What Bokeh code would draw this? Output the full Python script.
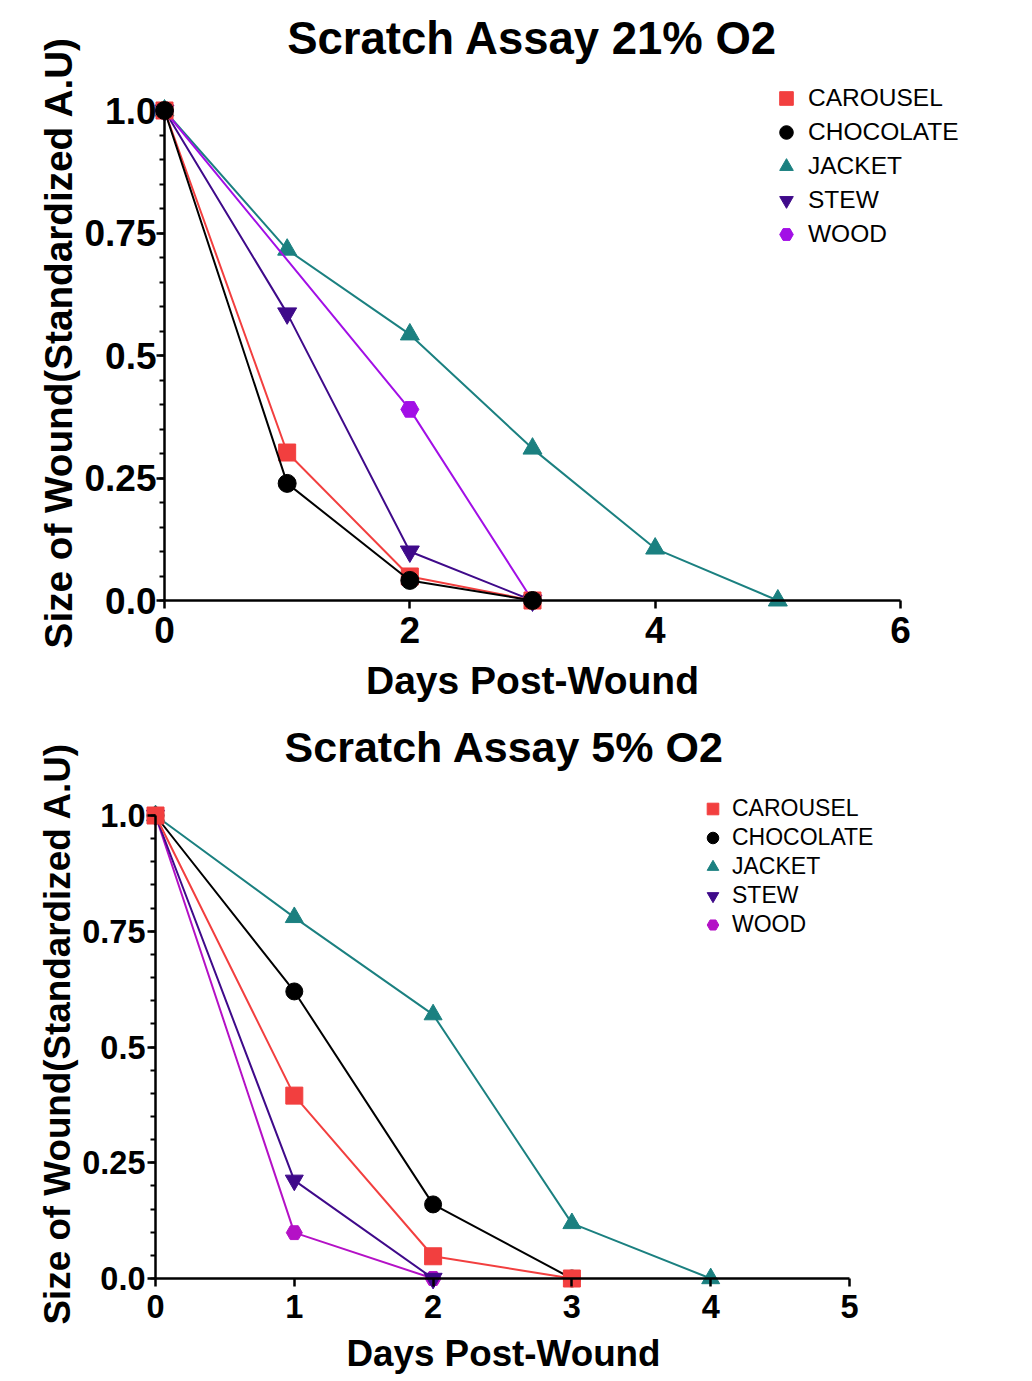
import math
from bokeh.plotting import figure
from bokeh.models import LinearAxis, Range1d, Legend, LegendItem, FixedTicker, Label
from bokeh.layouts import column
from bokeh.embed import file_html
from bokeh.resources import INLINE

# ---------------- data: 21% O2 ----------------
series_names = ["CAROUSEL", "CHOCOLATE", "JACKET", "STEW", "WOOD"]

top_carousel_days = [0, 1, 2, 3]
top_carousel_vals = [1.0, 0.302, 0.049, 0.0]
top_chocolate_days = [0, 1, 2, 3]
top_chocolate_vals = [1.0, 0.239, 0.041, 0.0]
top_jacket_days = [0, 1, 2, 3, 4, 5]
top_jacket_vals = [1.0, 0.716, 0.543, 0.310, 0.106, 0.0]
top_stew_days = [0, 1, 2, 3]
top_stew_vals = [1.0, 0.586, 0.100, 0.0]
top_wood_days = [0, 2, 3]
top_wood_vals = [1.0, 0.390, 0.0]

# ---------------- data: 5% O2 ----------------
bot_carousel_days = [0, 1, 2, 3]
bot_carousel_vals = [1.0, 0.395, 0.048, 0.0]
bot_chocolate_days = [0, 1, 2, 3]
bot_chocolate_vals = [1.0, 0.620, 0.160, 0.0]
bot_jacket_days = [0, 1, 2, 3, 4]
bot_jacket_vals = [1.0, 0.780, 0.570, 0.119, 0.0]
bot_stew_days = [0, 1, 2]
bot_stew_vals = [1.0, 0.212, 0.0]
bot_wood_days = [0, 1, 2]
bot_wood_vals = [1.0, 0.099, 0.0]

# ticks / texts
y_ticks = [0.0, 0.25, 0.5, 0.75, 1.0]
y_tick_labels = ["0.0", "0.25", "0.5", "0.75", "1.0"]
top_x_ticks = [0, 2, 4, 6]
bot_x_ticks = [0, 1, 2, 3, 4, 5]
top_title = "Scratch Assay 21% O2"
bot_title = "Scratch Assay 5% O2"
x_label = "Days Post-Wound"
y_label = "Size of Wound(Standardized A.U)"

FONT = "Liberation Sans"
C_CAROUSEL = "#F23F3F"
C_CHOC = "#000000"
C_JACKET = "#1B8080"
C_STEW = "#3F0A8A"
C_WOOD_TOP = "#A20FE6"
C_WOOD_BOT = "#B411C6"


class Panel:
    """A figure whose frame is the whole canvas; axes are pinned at 0."""

    def __init__(self, fig_w, fig_h, px_x0, px_x1, xmax, px_y1, px_y0):
        sx = (px_x1 - px_x0) / xmax
        sy = (px_y0 - px_y1)
        self.sx, self.sy = sx, sy
        self.px_x0, self.px_y0 = px_x0, px_y0
        xr = Range1d(-px_x0 / sx, (fig_w - px_x0) / sx)
        yr = Range1d(-(fig_h - px_y0) / sy, 1 + px_y1 / sy)
        self.p = figure(width=fig_w, height=fig_h, x_range=xr, y_range=yr,
                        x_axis_type=None, y_axis_type=None, title=None,
                        output_backend="svg", toolbar_location=None, min_border=0)
        self.p.outline_line_color = None

    def dx(self, px):
        return (px - self.px_x0) / self.sx

    def dy(self, py):
        return (self.px_y0 - py) / self.sy

    def text(self, txt, px, py, size, angle=0.0, bold=True):
        self.p.add_layout(Label(x=self.dx(px), y=self.dy(py), text=txt, angle=angle,
                                text_font=FONT, text_font_size=size,
                                text_font_style="bold" if bold else "normal",
                                text_align="center", text_baseline="middle",
                                text_color="black"))


def style_axes(p, x_ticks, xmax, tick_size, x_standoff, y_standoff):
    xa = LinearAxis(fixed_location=0)
    xa.ticker = FixedTicker(ticks=x_ticks, minor_ticks=[])
    xa.bounds = (0, xmax)
    ya = LinearAxis(fixed_location=0)
    minor = [round(0.05 * i, 2) for i in range(21)]
    ya.ticker = FixedTicker(ticks=y_ticks, minor_ticks=minor)
    ya.bounds = (0, 1)
    ya.major_label_overrides = {t: l for t, l in zip(y_ticks, y_tick_labels)}
    for ax in (xa, ya):
        ax.axis_line_width = 2.5
        ax.axis_line_color = "black"
        ax.major_tick_line_width = 2.5
        ax.major_tick_in = 0
        ax.major_tick_out = 8
        ax.minor_tick_line_width = 2
        ax.minor_tick_in = 0
        ax.minor_tick_out = 5
        ax.major_label_text_font = FONT
        ax.major_label_text_font_style = "bold"
        ax.major_label_text_font_size = tick_size
        ax.major_label_text_color = "black"
    xa.major_label_standoff = x_standoff
    ya.major_label_standoff = y_standoff
    p.add_layout(xa, "below")
    p.add_layout(ya, "left")


def add_series(p, days, vals, color, marker, size):
    p.line(days, vals, line_color=color, line_width=2)
    sc = p.scatter(days, vals, marker=marker, size=size, fill_color=color, line_color=color)
    return sc


def make_legend(p, items, loc, font_size, row_h, standoff):
    leg = Legend(items=[LegendItem(label=n, renderers=[r]) for n, r in zip(series_names, items)],
                 location=loc, label_text_font=FONT, label_text_font_size=font_size,
                 label_height=row_h, glyph_height=row_h, glyph_width=row_h, spacing=0,
                 padding=0, margin=0, border_line_color=None, background_fill_alpha=0,
                 label_standoff=standoff, label_text_color="black")
    p.add_layout(leg)


# ---------------- top figure (page y 0..712) ----------------
T = Panel(1016, 712, 164, 900, 6, 110, 600)
top = T.p
style_axes(top, top_x_ticks, 6, "37px", 8, 0)
s_jacket = add_series(top, top_jacket_days, top_jacket_vals, C_JACKET, "triangle", 19)
s_stew = add_series(top, top_stew_days, top_stew_vals, C_STEW, "inverted_triangle", 19)
s_wood = add_series(top, top_wood_days, top_wood_vals, C_WOOD_TOP, "hex", 18)
s_car = add_series(top, top_carousel_days, top_carousel_vals, C_CAROUSEL, "square", 17)
s_choc = add_series(top, top_chocolate_days, top_chocolate_vals, C_CHOC, "circle", 18)
make_legend(top, [s_car, s_choc, s_jacket, s_stew, s_wood], (769, 461), "24.5px", 34, 5)
T.text(top_title, 532, 38, "45.5px")
T.text(x_label, 532, 680, "39px")
T.text(y_label, 58, 342, "38.7px", angle=math.pi / 2)

# ---------------- bottom figure (page y 712..1381) ----------------
B = Panel(1016, 669, 155, 849, 5, 103, 566)
bot = B.p
style_axes(bot, bot_x_ticks, 5, "32.5px", 8, 2)
b_wood = add_series(bot, bot_wood_days, bot_wood_vals, C_WOOD_BOT, "hex", 16)
b_stew = add_series(bot, bot_stew_days, bot_stew_vals, C_STEW, "inverted_triangle", 18)
b_jacket = add_series(bot, bot_jacket_days, bot_jacket_vals, C_JACKET, "triangle", 18)
b_choc = add_series(bot, bot_chocolate_days, bot_chocolate_vals, C_CHOC, "circle", 17)
b_car = add_series(bot, bot_carousel_days, bot_carousel_vals, C_CAROUSEL, "square", 17)
make_legend(bot, [b_car, b_choc, b_jacket, b_stew, b_wood], (698, 442), "23px", 29, 5)
B.text(bot_title, 504, 34, "43px")
B.text(x_label, 503, 641, "36.8px")
B.text(y_label, 57, 321, "36.8px", angle=math.pi / 2)

layout = column(top, bot, spacing=0)
open("out.html", "w").write(file_html(layout, INLINE))
